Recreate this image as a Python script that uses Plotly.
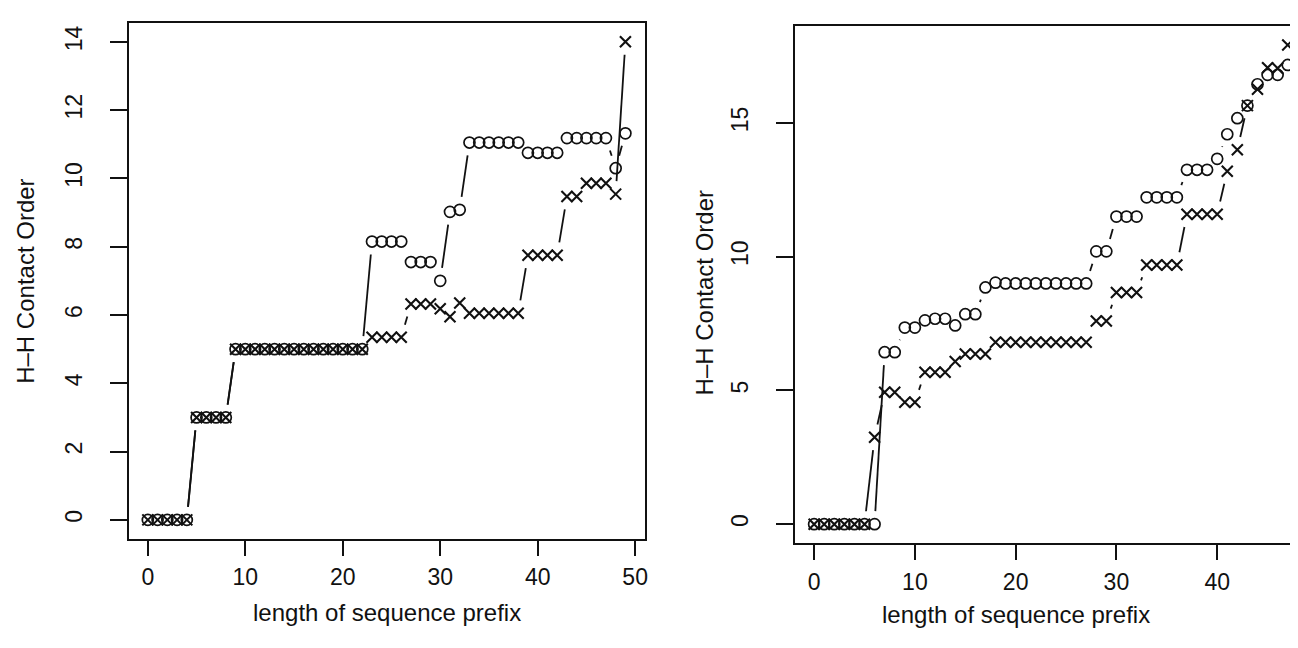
import math
import plotly.graph_objects as go

W, H = 1298, 648

# ---------------- data ----------------
left_len = list(range(0, 50))
left_o = [0, 0, 0, 0, 0, 3, 3, 3, 3,
          5, 5, 5, 5, 5, 5, 5, 5, 5, 5, 5, 5, 5, 5,
          8.15, 8.15, 8.15, 8.15,
          7.55, 7.55, 7.55,
          7.0, 9.02, 9.08,
          11.05, 11.05, 11.05, 11.05, 11.05, 11.05,
          10.75, 10.75, 10.75, 10.75,
          11.18, 11.18, 11.18, 11.18, 11.18,
          10.3, 11.32]
left_x = [0, 0, 0, 0, 0, 3, 3, 3, 3,
          5, 5, 5, 5, 5, 5, 5, 5, 5, 5, 5, 5, 5, 5,
          5.35, 5.35, 5.35, 5.35,
          6.32, 6.32, 6.32,
          6.18, 5.95, 6.35,
          6.05, 6.05, 6.05, 6.05, 6.05, 6.05,
          7.75, 7.75, 7.75, 7.75,
          9.47, 9.47,
          9.86, 9.86, 9.86,
          9.54, 14.0]

right_len = list(range(0, 48))
right_o = [0, 0, 0, 0, 0, 0, 0,
           6.43, 6.43, 7.35, 7.35,
           7.62, 7.68, 7.68, 7.43, 7.85, 7.85, 8.85,
           9.03, 9.0, 9.0, 9.0, 9.0, 9.0, 9.0, 9.0, 9.0, 9.0,
           10.2, 10.2,
           11.5, 11.5, 11.5,
           12.22, 12.22, 12.22, 12.22,
           13.25, 13.25, 13.25, 13.66,
           14.58, 15.18, 15.65, 16.45, 16.8, 16.8, 17.17]
right_x = [0, 0, 0, 0, 0, 0, 3.25,
           4.93, 4.93, 4.56, 4.56,
           5.68, 5.68, 5.68, 6.08, 6.36, 6.36, 6.36,
           6.8, 6.8, 6.8, 6.8, 6.8, 6.8, 6.8, 6.8, 6.8, 6.8,
           7.6, 7.6,
           8.66, 8.66, 8.66,
           9.69, 9.69, 9.69, 9.69,
           11.59, 11.59, 11.59, 11.59,
           13.2, 14.0, 15.65, 16.26, 17.07, 17.05, 17.92]

left_xticks = [0, 10, 20, 30, 40, 50]
left_yticks = [0, 2, 4, 6, 8, 10, 12, 14]
right_xticks = [0, 10, 20, 30, 40]
right_yticks = [0, 5, 10, 15]

x_title = "length of sequence prefix"
y_title = "H\u2013H Contact Order"

# ---------------- geometry ----------------
L_box = dict(x0=121, x1=638, y0=14.7, y1=531)
R_box = dict(x0=789, x1=1298, y0=18.3, y1=535.3)
L_xr = [-1.96, 50.96]
L_yr = [-0.56, 14.56]
R_xr = [-1.88, -1.88 + (R_box["x1"] - R_box["x0"]) / 10.1]
R_yr = [-0.716, 18.616]

FONT = "Liberation Sans, Arial, Helvetica, sans-serif"
INK = "#111111"


def dom(box):
    return ([box["x0"] / W, box["x1"] / W], [1 - box["y1"] / H, 1 - box["y0"] / H])


def gap_segments(xs, ys, box, xr, yr, d=13.0):
    """R type='b' style: line pieces between points, leaving a gap near each point."""
    sx = (box["x1"] - box["x0"]) / (xr[1] - xr[0])
    sy = (box["y1"] - box["y0"]) / (yr[1] - yr[0])
    X, Y = [], []
    for i in range(len(xs) - 1):
        dx, dy = xs[i + 1] - xs[i], ys[i + 1] - ys[i]
        Lp = math.hypot(dx * sx, dy * sy)
        if Lp == 0:
            continue
        f = d / Lp
        if f < 0.5:
            X += [xs[i] + f * dx, xs[i + 1] - f * dx, None]
            Y += [ys[i] + f * dy, ys[i + 1] - f * dy, None]
    return X, Y


fig = go.Figure()

panels = [
    (left_len, left_o, left_x, L_box, L_xr, L_yr, "x", "y"),
    (right_len, right_o, right_x, R_box, R_xr, R_yr, "x2", "y2"),
]
for xs, yo, yx, box, xr, yr, xa, ya in panels:
    for ys in (yo, yx):
        sxs, sys_ = gap_segments(xs, ys, box, xr, yr)
        fig.add_trace(go.Scatter(x=sxs, y=sys_, mode="lines", xaxis=xa, yaxis=ya,
                                 line=dict(color=INK, width=1.8), hoverinfo="skip",
                                 showlegend=False))
    fig.add_trace(go.Scatter(x=xs, y=yo, mode="markers", xaxis=xa, yaxis=ya,
                             marker=dict(symbol="circle-open", size=11, color=INK,
                                         line=dict(width=1.7, color=INK)),
                             showlegend=False))
    fig.add_trace(go.Scatter(x=xs, y=yx, mode="markers", xaxis=xa, yaxis=ya,
                             marker=dict(symbol="x-thin-open", size=11, color=INK,
                                         line=dict(width=2.1, color=INK)),
                             showlegend=False))

tickfont = dict(family=FONT, size=23, color=INK)
common_x = dict(showgrid=False, zeroline=False, showline=True, linecolor=INK, linewidth=1.5,
                ticks="outside", ticklen=15, tickwidth=1.5, tickcolor=INK,
                tickfont=tickfont, ticklabelstandoff=2)
common_y = dict(showgrid=False, zeroline=False, showline=True, linecolor=INK, linewidth=1.5,
                ticks="outside", ticklen=17, tickwidth=1.5, tickcolor=INK,
                tickfont=tickfont, tickangle=-90, ticklabelstandoff=19)

Ldx, Ldy = dom(L_box)
Rdx, Rdy = dom(R_box)

fig.update_layout(
    width=W, height=H,
    margin=dict(l=0, r=0, t=0, b=0),
    paper_bgcolor="white", plot_bgcolor="white",
    showlegend=False,
    xaxis=dict(domain=Ldx, range=L_xr, tickvals=left_xticks, mirror=True, anchor="y", **common_x),
    yaxis=dict(domain=Ldy, range=L_yr, tickvals=left_yticks, mirror=True, anchor="x", **common_y),
    xaxis2=dict(domain=Rdx, range=R_xr, tickvals=right_xticks, mirror=True, anchor="y2", **common_x),
    yaxis2=dict(domain=Rdy, range=R_yr, tickvals=right_yticks, mirror=False, anchor="x2", **common_y),
)

titlefont = dict(family=FONT, size=24, color=INK)
annotations = [
    dict(text=x_title, x=(L_box["x0"] + L_box["x1"]) / 2 / W, y=1 - 604 / H),
    dict(text=x_title, x=1010 / W, y=1 - 606 / H),
    dict(text=y_title, x=18 / W, y=1 - (L_box["y0"] + L_box["y1"]) / 2 / H, textangle=-90),
    dict(text=y_title, x=698 / W, y=1 - 285 / H, textangle=-90),
]
for a in annotations:
    fig.add_annotation(xref="paper", yref="paper", showarrow=False, font=titlefont,
                       xanchor="center", yanchor="middle", **a)

fig.write_html("out.html")
